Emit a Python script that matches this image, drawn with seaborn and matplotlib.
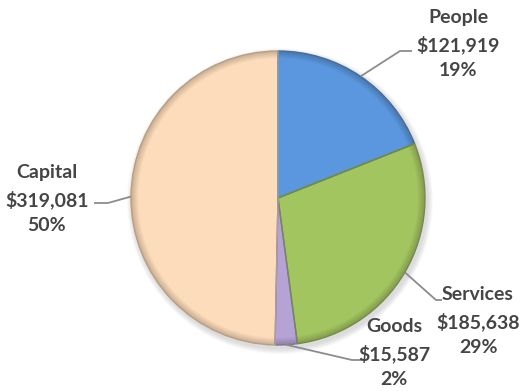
import numpy as np
import matplotlib
matplotlib.use("Agg")
import matplotlib.pyplot as plt
import matplotlib.colors as mcolors
import seaborn as sns

# Spending by category
categories = ["People", "Services", "Goods", "Capital"]
amounts = [121919, 185638, 15587, 319081]
slice_colors = ["#5A97DE", "#A3C55F", "#B4A3D4", "#FDDCBB"]

sns.set_theme(style="white")
plt.rcParams["font.family"] = ["Lato", "DejaVu Sans"]

W, H = 530, 391
fig = plt.figure(figsize=(W / 100, H / 100), dpi=100)
ax = fig.add_axes([0, 0, 1, 1])
ax.set_xlim(0, W)
ax.set_ylim(0, H)
ax.set_aspect("equal")
ax.axis("off")

cx, cy, R = 278, H - 198, 147
total = sum(amounts)
fractions = [a / total for a in amounts]

# soft drop shadow
for k in range(8):
    ax.add_patch(plt.Circle((cx + 2, cy - 3), R + 1 + k * 0.7, color="0.5",
                            alpha=0.035, lw=0, zorder=0))

def blend(c, f):
    r, g, b = mcolors.to_rgb(c)
    return (r * f, g * f, b * f)

# beveled rim: stacked pies from a darker shade at the edge to the base colour
n_layers = 9
for i in range(n_layers):
    t = i / (n_layers - 1)
    shade = 0.80 + 0.20 * t
    ax.pie(amounts, colors=[blend(c, shade) for c in slice_colors],
           startangle=90, counterclock=False, center=(cx, cy),
           radius=R - i * 0.9, frame=True,
           wedgeprops=dict(linewidth=0, antialiased=True))

# thin darker borders around each slice
wedges, _ = ax.pie(amounts, colors=["none"] * 4, startangle=90, counterclock=False,
                   center=(cx, cy), radius=R, frame=True,
                   wedgeprops=dict(linewidth=1.0, fill=False))
for w, c in zip(wedges, slice_colors):
    w.set_edgecolor(blend(c, 0.72))

ax.set_xlim(0, W)
ax.set_ylim(0, H)
ax.axis("off")

# label text anchors and leader elbows, in pixels from the top-left corner
label_pos = {"People": (458, 44), "Services": (478, 321), "Goods": (394, 353), "Capital": (47, 199)}
elbows = {"People": ((400, 51), (412, 51)), "Services": ((436, 300), (442, 300)),
          "Goods": ((352, 360), (362, 360)), "Capital": ((108, 203), (94, 203))}

for name, amt, frac, w in zip(categories, amounts, fractions, wedges):
    mid = np.deg2rad((w.theta1 + w.theta2) / 2)
    rx, ry = cx + R * np.cos(mid), cy + R * np.sin(mid)
    (ex, ey), (hx, hy) = elbows[name]
    ax.plot([rx, ex, hx], [ry, H - ey, H - hy], color="#8C8C8C", lw=1.3,
            solid_capstyle="butt", zorder=5)
    tx, ty = label_pos[name]
    ax.text(tx, H - ty, f"{name}\n\\${amt:,}\n{frac * 100:.0f}%",
            ha="center", va="center", fontsize=14, fontweight="bold",
            color="#454545", linespacing=1.55, zorder=6)

fig.savefig("out.png", dpi=100)
